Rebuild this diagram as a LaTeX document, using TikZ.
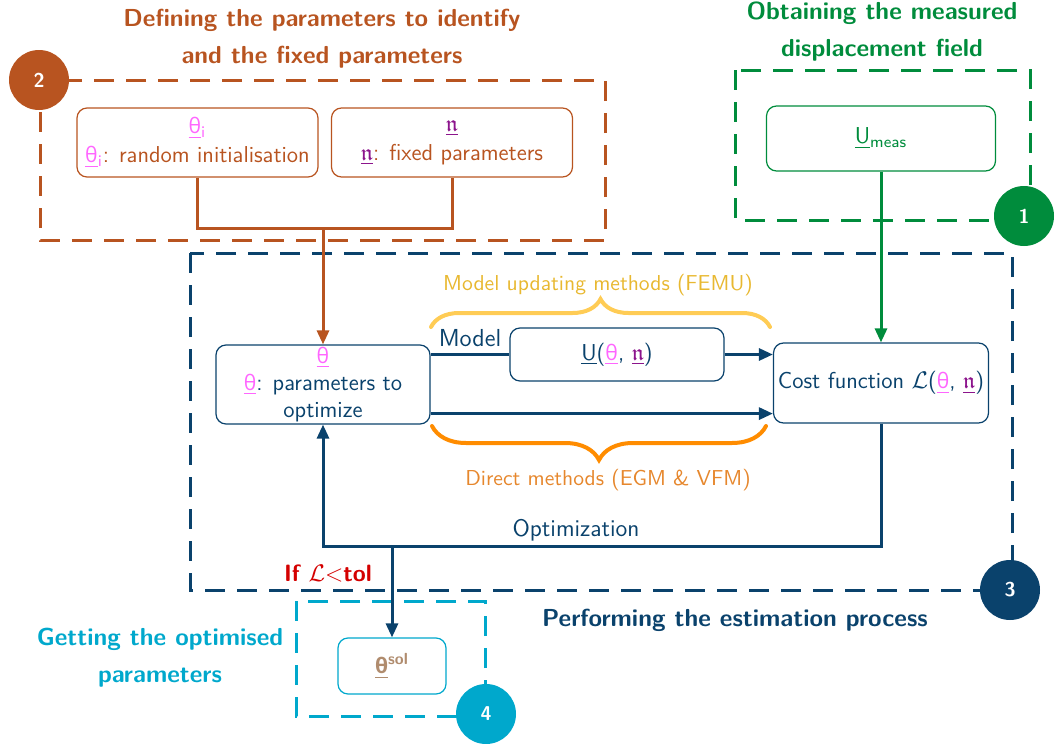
\documentclass[tikz,border=0pt]{standalone}
\usepackage{amssymb}
\usepackage{fontspec}
\renewcommand{\familydefault}{\sfdefault}
\newfontfamily\grk[Scale=0.92]{Open Sans}
\usetikzlibrary{arrows.meta,decorations.pathreplacing}

\definecolor{cbrown}{RGB}{184,84,32}
\definecolor{cgreen}{RGB}{0,140,60}
\definecolor{cblue}{RGB}{10,66,108}
\definecolor{ccyan}{RGB}{0,168,204}
\definecolor{cpink}{RGB}{255,102,255}
\definecolor{cpurple}{RGB}{140,20,140}
\definecolor{cred}{RGB}{212,0,0}
\definecolor{cyellow}{RGB}{255,204,85}
\definecolor{cyeltext}{RGB}{232,184,48}
\definecolor{corange}{RGB}{255,140,0}
\definecolor{corgtext}{RGB}{230,135,45}
\definecolor{ctan}{RGB}{176,140,110}

\newcommand{\thp}{\textcolor{cpink}{\underline{\grk θ}}}
\newcommand{\etp}{\textcolor{cpurple}{$\underline{\mathfrak{n}}$}}

\begin{document}
\begin{tikzpicture}[x=0.5pt,y=-0.5pt,
  box/.style={draw, rounded corners=5pt, align=center, inner sep=1pt, line width=0.6pt, font=\fontsize{11.5}{13.5}\selectfont},
  grp/.style={dash pattern=on 10pt off 6pt, line width=1.5pt},
  badge/.style={circle, fill=#1, text=white, minimum size=30pt, inner sep=0pt, font=\bfseries\fontsize{10}{12}\selectfont},
  grptitle/.style={text=#1, align=center, font=\bfseries\fontsize{12.3}{18.5}\selectfont},
  lbl/.style={text=#1, font=\fontsize{10.8}{12}\selectfont},
  link/.style={line width=1.5pt},
  arr/.style={link, -{Triangle[length=7pt,width=6pt]}},
  methbrace/.style={decorate, decoration={brace, amplitude=#1}, line width=2pt, line cap=round}]
\useasboundingbox (0,0) rectangle (1055,744);

% group boxes
\draw[grp, cbrown] (40,80) rectangle (605,240);
\draw[grp, cgreen] (735,70) rectangle (1030,220);
\draw[grp, cblue] (190,253) rectangle (1012,590);
\draw[grp, ccyan] (296,601) rectangle (485,716);

% titles
\node[grptitle=cbrown] (t2) at (322,39) {Defining the parameters to identify\\and the fixed parameters};
\node[grptitle=cgreen] (t1) at (882,32) {Obtaining the measured\\displacement field};
\node[grptitle=cblue] (t3) at (735,620) {Performing the estimation process};
\node[grptitle=ccyan] (t4) at (160,658) {Getting the optimised\\parameters};

% boxes
\node[box, cbrown, minimum width=120.5pt, minimum height=34.5pt, font=\fontsize{11.5}{14.5}\selectfont] (thi) at (197.5,142.5)
  {\textcolor{cpink}{\underline{\grk θ}\textsubscript{i}}\\\textcolor{cpink}{\underline{\grk θ}\textsubscript{i}}: random initialisation};
\node[box, cbrown, minimum width=120.5pt, minimum height=34.5pt, font=\fontsize{11.5}{14.5}\selectfont] (eta) at (452,142.5)
  {\etp\\\etp: fixed parameters};
\node[box, cgreen, minimum width=114.5pt, minimum height=32.5pt] (umeas) at (881,138.5)
  {\underline{U}\textsubscript{meas}};
\node[box, cblue, text=cblue, minimum width=107pt, minimum height=39.5pt] (th) at (323,384.5)
  {\thp\\\thp: parameters to\\optimize};
\node[box, cblue, text=cblue, minimum width=107pt, minimum height=26.5pt] (model) at (617,354.5)
  {\underline{U}(\thp, \etp)};
\node[box, cblue, text=cblue, minimum width=107.5pt, minimum height=40pt] (cost) at (881,383)
  {Cost function $\mathcal{L}$(\thp, \etp)};
\node[box, ccyan, text=ctan, minimum width=54pt, minimum height=28pt] (sol) at (392,666)
  {\textbf{\underline{\grk\bfseries θ}}\textsuperscript{\bfseries sol}};

% badges
\node[badge=cbrown] (b2) at (39,80) {2};
\node[badge=cgreen] (b1) at (1024,216) {1};
\node[badge=cblue] (b3) at (1010,590) {3};
\node[badge=ccyan] (b4) at (486,714) {4};

% connectors
\coordinate (join) at (323,228);
\draw[link, cbrown] (thi.south) |- (join) -| (eta.south);
\draw[arr, cbrown] (join) -- (th.north);
\draw[arr, cgreen] (umeas.south) -- (cost.north);
\draw[link, cblue] (th.east |- model.west) -- node[lbl=cblue, above, font=\fontsize{12.3}{14}\selectfont] (mlbl) {Model} (model.west);
\draw[arr, cblue] (model.east) -- (cost.west |- model.east);
\draw[arr, cblue] ([yshift=5.5pt]th.south east) -- ([yshift=5.5pt]th.south east -| cost.west);
\coordinate (loop) at (323,546);
\draw[arr, cblue] (cost.south) |- (loop) -- (th.south);
\node[lbl=cblue, font=\fontsize{12}{14}\selectfont] (optlbl) at (576,530) {Optimization};
\coordinate (stop) at (392,546);
\draw[arr, cblue] (stop) -- (sol.north);
\node[text=cred, font=\bfseries\fontsize{11.8}{14}\selectfont] (tol) at (328,573) {If $\mathcal{L}{<}$tol};

% method braces
\draw[methbrace=14pt, cyellow] (431,327) -- (770,327);
\node[lbl=cyeltext] (femu) at (598,285) {Model updating methods (FEMU)};
\draw[methbrace=17pt, corange] (766,426) -- (432,426);
\node[lbl=corgtext] (direct) at (608,480) {Direct methods (EGM \& VFM)};
\end{tikzpicture}
\end{document}
